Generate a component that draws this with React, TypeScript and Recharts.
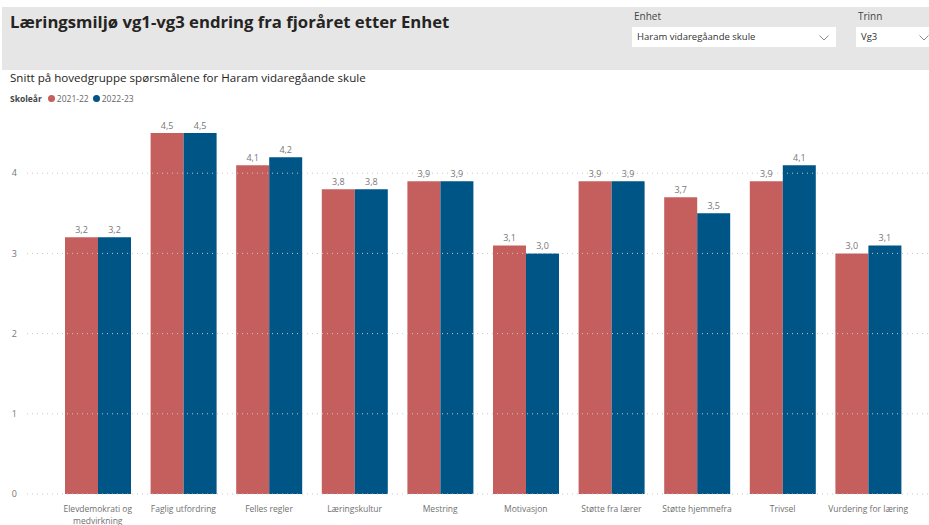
import React from "react";
import { Bar, BarChart, LabelList, ReferenceLine, XAxis, YAxis } from "recharts";

const categories = [
  "Elevdemokrati og medvirkning",
  "Faglig utfordring",
  "Felles regler",
  "Læringskultur",
  "Mestring",
  "Motivasjon",
  "Støtte fra lærer",
  "Støtte hjemmefra",
  "Trivsel",
  "Vurdering for læring",
];
const year2122 = [3.2, 4.5, 4.1, 3.8, 3.9, 3.1, 3.9, 3.7, 3.9, 3.0];
const year2223 = [3.2, 4.5, 4.2, 3.8, 3.9, 3.0, 3.9, 3.5, 4.1, 3.1];
const yTicks = [0, 1, 2, 3, 4];

const RED = "#C55F5E";
const BLUE = "#005587";
const FONT = "'Open Sans', 'Noto Sans', sans-serif";

const data = categories.map((name, i) => ({
  name,
  a: year2122[i],
  b: year2223[i],
}));

const fmt = (v: any) => Number(v).toFixed(1).replace(".", ",");

// split long category names into lines of at most ~20 chars
function wrap(label: string, max = 20) {
  const words = label.split(" ");
  const lines: string[] = [];
  let cur = "";
  for (const w of words) {
    const next = cur ? cur + " " + w : w;
    if (next.length > max && cur) {
      lines.push(cur);
      cur = w;
    } else cur = next;
  }
  if (cur) lines.push(cur);
  return lines;
}

function CategoryTick({ x, y, payload }: any) {
  const lines = wrap(payload.value);
  return (
    <text x={x} y={y} textAnchor="middle" fill="#707070" fontSize={8.5} fontFamily={FONT}>
      {lines.map((l, i) => (
        <tspan key={i} x={x} dy={i === 0 ? 10 : 12}>
          {l}
        </tspan>
      ))}
    </text>
  );
}

function Chevron({ x }: { x: number }) {
  return (
    <svg width={10} height={6} style={{ position: "absolute", left: x, top: 8 }}>
      <polyline points="0.5,0.5 5,5 9.5,0.5" fill="none" stroke="#888" strokeWidth={1} />
    </svg>
  );
}

export default function App() {
  return (
    <div
      style={{
        position: "fixed",
        left: 0,
        top: 0,
        width: 929,
        height: 525,
        background: "#fff",
        fontFamily: FONT,
        overflow: "hidden",
      }}
    >
      {/* header band */}
      <div
        style={{
          position: "absolute",
          left: 2,
          top: 7,
          width: 927,
          height: 63,
          background: "#E6E6E6",
        }}
      />
      <div
        style={{
          position: "absolute",
          left: 10,
          top: 10,
          fontSize: 16.7,
          fontWeight: 700,
          color: "#252423",
          whiteSpace: "nowrap",
        }}
      >
        Læringsmiljø vg1-vg3 endring fra fjoråret etter Enhet
      </div>

      <div style={{ position: "absolute", left: 634, top: 9, fontSize: 10, color: "#444" }}>Enhet</div>
      <div
        style={{
          position: "absolute",
          left: 632,
          top: 27,
          width: 204,
          height: 20,
          background: "#fff",
        }}
      >
        <div style={{ position: "absolute", left: 5, top: 3, fontSize: 9.5, color: "#333", whiteSpace: "nowrap" }}>
          Haram vidaregåande skule
        </div>
        <Chevron x={187} />
      </div>

      <div style={{ position: "absolute", left: 858, top: 9, fontSize: 10, color: "#444" }}>Trinn</div>
      <div
        style={{
          position: "absolute",
          left: 856,
          top: 27,
          width: 80,
          height: 20,
          background: "#fff",
        }}
      >
        <div style={{ position: "absolute", left: 5, top: 3, fontSize: 9.5, color: "#333" }}>Vg3</div>
        <Chevron x={63} />
      </div>

      <div
        style={{
          position: "absolute",
          left: 10,
          top: 70,
          fontSize: 11.6,
          color: "#252423",
          whiteSpace: "nowrap",
        }}
      >
        Snitt på hovedgruppe spørsmålene for Haram vidaregåande skule
      </div>

      {/* legend */}
      <div
        style={{
          position: "absolute",
          left: 10,
          top: 93,
          display: "flex",
          alignItems: "center",
          fontSize: 8.5,
          color: "#666",
          whiteSpace: "nowrap",
        }}
      >
        <span style={{ fontWeight: 700, color: "#444", marginRight: 6 }}>Skoleår</span>
        <span style={{ width: 7, height: 7, borderRadius: 4, background: RED, marginRight: 2 }} />
        <span style={{ marginRight: 4 }}>2021-22</span>
        <span style={{ width: 7, height: 7, borderRadius: 4, background: BLUE, marginRight: 2 }} />
        <span>2022-23</span>
      </div>

      <div style={{ position: "absolute", left: 0, top: 0 }}>
        <BarChart
          width={929}
          height={525}
          data={data}
          margin={{ top: 93, right: 0, bottom: 1, left: 0 }}
          barGap={0}
          barCategoryGap={10}
        >
          <YAxis
            width={27}
            domain={[0, 5]}
            ticks={yTicks}
            axisLine={false}
            tickLine={false}
            tickMargin={4}
            tick={{ fill: "#777", fontSize: 9, fontFamily: FONT }}
          />
          <XAxis
            dataKey="name"
            height={30}
            axisLine={false}
            tickLine={false}
            interval={0}
            padding={{ left: 28, right: 18 }}
            tick={<CategoryTick />}
          />
          {/* dotted gridlines at the y ticks */}
          {yTicks.map((t) => (
            <ReferenceLine key={t} y={t} stroke="#C8C8C8" strokeDasharray="1 4" />
          ))}
          <Bar dataKey="a" fill={RED} isAnimationActive={false}>
            <LabelList
              dataKey="a"
              position="top"
              offset={4}
              formatter={fmt}
              fill="#777"
              fontSize={9}
              fontFamily={FONT}
            />
          </Bar>
          <Bar dataKey="b" fill={BLUE} isAnimationActive={false}>
            <LabelList
              dataKey="b"
              position="top"
              offset={4}
              formatter={fmt}
              fill="#777"
              fontSize={9}
              fontFamily={FONT}
            />
          </Bar>
        </BarChart>
      </div>
    </div>
  );
}
